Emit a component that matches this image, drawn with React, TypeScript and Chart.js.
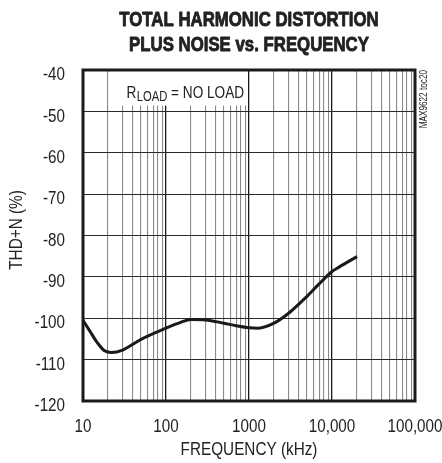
import React, { useEffect, useRef } from "react";
import { Chart, registerables } from "chart.js";

Chart.register(...registerables);

// ---- data ----
const freqKHz = [10, 12, 15, 18, 22, 30, 50, 100, 150, 200, 300, 500, 700, 1000, 1300, 2000, 3000, 5000, 7000, 10000, 12000, 20000];
const thdnDb = [-100.5, -103, -106, -107.8, -108.3, -107.7, -105.1, -102.4, -101, -100.3, -100.4, -101.2, -101.8, -102.3, -102.4, -101.2, -98.8, -94.7, -91.7, -88.7, -87.7, -85.1];

const xDecades = [10, 100, 1000, 10000, 100000];
const xDecadeLabels = ["10", "100", "1000", "10,000", "100,000"];
const xMinorMultipliers = [2, 3, 4, 5, 6, 7, 8, 9];
const yMin = -120;
const yMax = -40;
const yStep = 10;

const titleLines = ["TOTAL HARMONIC DISTORTION", "PLUS NOISE vs. FREQUENCY"];
const xTitle = "FREQUENCY (kHz)";
const yTitle = "THD+N (%)";
const annoMain = "R";
const annoSub = "LOAD";
const annoRest = " = NO LOAD";
const watermark = "MAX9622 toc20";

const FONT = '"Liberation Sans", Arial, sans-serif';
const TEXT = "#222";

const xTickValues: number[] = [];
xDecades.forEach((d, i) => {
  xTickValues.push(d);
  if (i < xDecades.length - 1) xMinorMultipliers.forEach((m) => xTickValues.push(d * m));
});

// draw horizontally-condensed text (Helvetica Narrow look)
function narrowText(
  ctx: CanvasRenderingContext2D,
  text: string,
  x: number,
  y: number,
  font: string,
  align: CanvasTextAlign,
  baseline: CanvasTextBaseline,
  sx: number,
  rotate = 0,
  stroke = 0
) {
  ctx.save();
  ctx.translate(x, y);
  if (rotate) ctx.rotate(rotate);
  ctx.scale(sx, 1);
  ctx.font = font;
  ctx.textAlign = align;
  ctx.textBaseline = baseline;
  ctx.fillStyle = TEXT;
  ctx.fillText(text, 0, 0);
  if (stroke) {
    ctx.strokeStyle = TEXT;
    ctx.lineWidth = stroke;
    ctx.lineJoin = "round";
    ctx.strokeText(text, 0, 0);
  }
  ctx.restore();
}

const overlayPlugin = {
  id: "overlay",
  beforeDatasetsDraw(chart: any) {
    const { ctx } = chart;
    const xs = chart.scales.x;
    const ys = chart.scales.y;
    // annotation box (white, covering the grid)
    const left = xs.getPixelForValue(20) + 1.5;
    const right = xs.getPixelForValue(1000) - 1;
    const top = ys.getPixelForValue(-40);
    const bottom = ys.getPixelForValue(-48.6);
    ctx.save();
    ctx.fillStyle = "#ffffff";
    ctx.fillRect(left, top, right - left, bottom - top);
    ctx.restore();
    const sx = 0.8;
    let x = left + 17;
    const base = top + 27.5;
    const f1 = `17px ${FONT}`;
    const f2 = `14px ${FONT}`;
    narrowText(ctx, annoMain, x, base, f1, "left", "alphabetic", sx);
    ctx.font = f1;
    x += ctx.measureText(annoMain).width * sx + 0.5;
    narrowText(ctx, annoSub, x, base + 3.5, f2, "left", "alphabetic", sx);
    ctx.font = f2;
    x += ctx.measureText(annoSub).width * sx;
    narrowText(ctx, annoRest, x, base, f1, "left", "alphabetic", sx);
  },
  afterDraw(chart: any) {
    const { ctx, chartArea } = chart;
    const xs = chart.scales.x;
    const ys = chart.scales.y;
    ctx.save();
    // frame
    ctx.strokeStyle = "#1a1a1a";
    ctx.lineWidth = 3;
    ctx.strokeRect(chartArea.left, chartArea.top, chartArea.right - chartArea.left, chartArea.bottom - chartArea.top);
    ctx.restore();

    const cx = (chartArea.left + chartArea.right) / 2;
    // title
    narrowText(ctx, titleLines[0], cx, 25.5, `bold 21px ${FONT}`, "center", "alphabetic", 0.8, 0, 0.9);
    narrowText(ctx, titleLines[1], cx, 50.5, `bold 21px ${FONT}`, "center", "alphabetic", 0.8, 0, 0.9);

    // x tick labels (decades only)
    xDecades.forEach((d, i) => {
      narrowText(ctx, xDecadeLabels[i], xs.getPixelForValue(d), 427, `19px ${FONT}`, "center", "middle", 0.8);
    });
    // y tick labels
    ys.ticks.forEach((t: any) => {
      narrowText(ctx, String(t.value), 65, ys.getPixelForValue(t.value) + 5, `19px ${FONT}`, "right", "middle", 0.8);
    });
    // axis titles
    narrowText(ctx, xTitle, cx, 450, `18px ${FONT}`, "center", "middle", 0.85);
    narrowText(ctx, yTitle, 17, 230, `18px ${FONT}`, "center", "middle", 0.85, -Math.PI / 2);
    // watermark
    narrowText(ctx, watermark, chartArea.right + 9, chartArea.top, `10px ${FONT}`, "right", "middle", 0.82, -Math.PI / 2);
  },
};

export default function App() {
  const ref = useRef<HTMLCanvasElement | null>(null);
  useEffect(() => {
    if (!ref.current) return;
    const chart = new Chart(ref.current, {
      type: "line",
      data: {
        datasets: [
          {
            data: freqKHz.map((f, i) => ({ x: f, y: thdnDb[i] })),
            borderColor: "#1a1a1a",
            borderWidth: 3,
            pointRadius: 0,
            fill: false,
            cubicInterpolationMode: "monotone",
          },
        ],
      },
      options: {
        responsive: false,
        animation: false,
        events: [],
        layout: { padding: { top: 70, right: 27, left: 0, bottom: 0 } },
        plugins: { legend: { display: false }, tooltip: { enabled: false }, title: { display: false } },
        scales: {
          x: {
            type: "logarithmic",
            min: 10,
            max: 100000,
            afterBuildTicks: (scale: any) => {
              scale.ticks = xTickValues.map((v) => ({ value: v }));
            },
            afterFit: (scale: any) => {
              scale.height = 62;
              scale.paddingLeft = 0;
              scale.paddingRight = 0;
            },
            ticks: { display: false, autoSkip: false },
            grid: {
              drawTicks: false,
              color: (ctx: any) => (ctx.tick && xDecades.includes(ctx.tick.value) ? "#1a1a1a" : "#8a8a8a"),
              lineWidth: (ctx: any) => (ctx.tick && xDecades.includes(ctx.tick.value) ? 1.3 : 1.1),
            },
            border: { display: false },
          },
          y: {
            type: "linear",
            min: yMin,
            max: yMax,
            afterFit: (scale: any) => {
              scale.width = 83;
              scale.paddingTop = 0;
              scale.paddingBottom = 0;
            },
            ticks: { display: false, stepSize: yStep },
            grid: { drawTicks: false, color: "#2a2a2a", lineWidth: 1.1 },
            border: { display: false },
          },
        },
      },
      plugins: [overlayPlugin],
    } as any);
    return () => chart.destroy();
  }, []);
  return (
    <div style={{ position: "absolute", left: 0, top: 0, width: 442, height: 463, background: "#fff" }}>
      <canvas ref={ref} width={442} height={463} />
    </div>
  );
}
